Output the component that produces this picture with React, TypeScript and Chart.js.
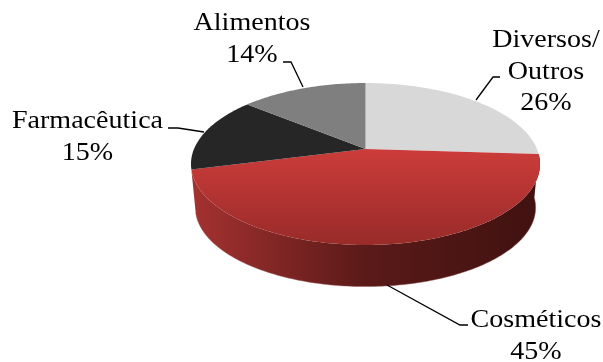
import React, { useEffect, useRef } from "react";
import { Chart, registerables } from "chart.js";

Chart.register(...registerables);

const categories = [["Diversos/", "Outros"], ["Cosméticos"], ["Farmacêutica"], ["Alimentos"]];
const shares = [26, 45, 15, 14];
const sliceColors = ["#d8d8d8", "#c93b39", "#262626", "#7f7f7f"];

// Tilted-disc camera: a unit circle is projected onto the page with perspective.
const APEX_X = 365.5;
const APEX_Y = 149;
const RADIUS_X = 171.5;
const RADIUS_Y = 78.2;
const PERSPECTIVE = 0.1852;
const DEPTH = 44;
const BASE_SCALE = 0.975;

const FONT_SIZE = 25.5;
const TEXT_STRETCH = 1.1;
const LINE_GAP = 31.5;
const labelAnchors = [
  { x: 546, y: 47 },
  { x: 536, y: 327 },
  { x: 87.5, y: 128 },
  { x: 252, y: 30 },
];
const leaderLines = [
  [[500, 77], [493, 77], [476, 100]],
  [[387, 285], [460, 325], [468, 325]],
  [[168, 128], [178, 128], [204, 132]],
  [[283, 62], [291, 62], [303, 87]],
];

function rimPoint(theta: number, base = false): [number, number] {
  const u = Math.cos(theta);
  const v = -Math.sin(theta);
  const w = 1 + PERSPECTIVE * v;
  const x = (RADIUS_X * u) / w;
  const y = (-RADIUS_Y * v) / w;
  return base
    ? [APEX_X + x * BASE_SCALE, APEX_Y + y * BASE_SCALE + DEPTH]
    : [APEX_X + x, APEX_Y + y];
}

function traceRim(ctx: CanvasRenderingContext2D, from: number, to: number, base = false) {
  const steps = Math.max(8, Math.ceil(Math.abs(to - from) * 60));
  for (let i = 0; i <= steps; i++) {
    const [x, y] = rimPoint(from + ((to - from) * i) / steps, base);
    ctx.lineTo(x, y);
  }
}

// Replaces the flat pie with a perspective disc, using the angles of the arc elements.
const tiltedPie = {
  id: "tiltedPie",
  beforeDatasetDraw(chart: any) {
    const { ctx } = chart;
    const arcs = chart.getDatasetMeta(0).data;

    const front = arcs[1];
    const wall = ctx.createLinearGradient(196, 0, 536, 0);
    wall.addColorStop(0, "#a33130");
    wall.addColorStop(0.5, "#5a1a18");
    wall.addColorStop(1, "#401210");
    ctx.save();
    ctx.beginPath();
    traceRim(ctx, front.startAngle, front.endAngle);
    traceRim(ctx, front.endAngle, front.startAngle, true);
    ctx.closePath();
    ctx.fillStyle = wall;
    ctx.fill();

    ctx.beginPath();
    traceRim(ctx, front.startAngle, front.endAngle, true);
    ctx.strokeStyle = "rgba(150,90,90,0.45)";
    ctx.lineWidth = 1;
    ctx.stroke();

    arcs.forEach((arc: any, i: number) => {
      let fill: any = sliceColors[i];
      if (i === 1) {
        fill = ctx.createLinearGradient(0, 150, 0, 245);
        fill.addColorStop(0, "#cb3c3a");
        fill.addColorStop(1, "#982b29");
      }
      ctx.beginPath();
      ctx.moveTo(APEX_X, APEX_Y);
      traceRim(ctx, arc.startAngle, arc.endAngle);
      ctx.closePath();
      ctx.fillStyle = fill;
      ctx.fill();
    });
    ctx.restore();
    return false;
  },
  afterDatasetsDraw(chart: any) {
    const { ctx } = chart;
    ctx.save();
    ctx.strokeStyle = "#000";
    ctx.lineWidth = 1.3;
    leaderLines.forEach((line) => {
      ctx.beginPath();
      line.forEach(([x, y]) => ctx.lineTo(x, y));
      ctx.stroke();
    });

    ctx.fillStyle = "#000";
    ctx.font = `${FONT_SIZE}px "Liberation Serif"`;
    ctx.textAlign = "center";
    ctx.textBaseline = "alphabetic";
    categories.forEach((lines, i) => {
      const rows = [...lines, `${shares[i]}%`];
      rows.forEach((row, r) => {
        ctx.save();
        ctx.translate(labelAnchors[i].x, labelAnchors[i].y + r * LINE_GAP);
        ctx.scale(TEXT_STRETCH, 1);
        ctx.fillText(row, 0, 0);
        ctx.restore();
      });
    });
    ctx.restore();
  },
};

export default function App() {
  const canvasRef = useRef<HTMLCanvasElement>(null);

  useEffect(() => {
    const chart = new Chart(canvasRef.current!, {
      type: "pie",
      data: {
        labels: categories.map((c) => c.join(" ")),
        datasets: [{ data: shares, backgroundColor: sliceColors, borderWidth: 0 }],
      },
      options: {
        animation: false,
        responsive: false,
        plugins: { legend: { display: false }, tooltip: { enabled: false } },
      },
      plugins: [tiltedPie],
    });
    return () => chart.destroy();
  }, []);

  return (
    <canvas
      ref={canvasRef}
      width={603}
      height={362}
      style={{ position: "absolute", left: 0, top: 0, width: 603, height: 362, background: "#fff" }}
    />
  );
}
